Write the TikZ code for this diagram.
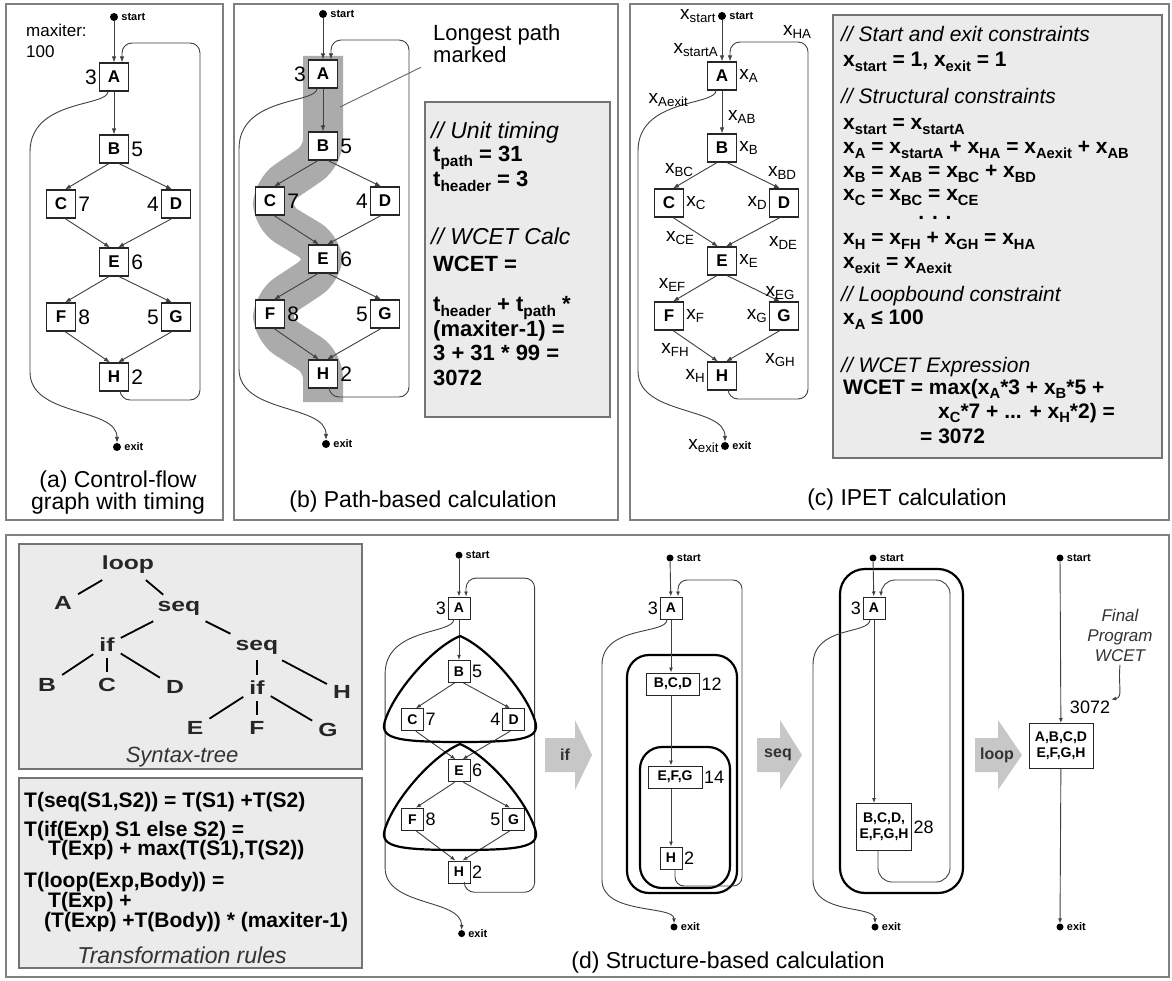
\documentclass[tikz,border=0pt]{standalone}
\usepackage{fontspec}
\setmainfont{Liberation Sans}
\usepackage{graphicx}
\usetikzlibrary{arrows.meta,positioning}
\newcommand\fs[2]{\fontsize{#1}{#2}\selectfont}
\newcommand\mysub[1]{\raisebox{-0.2em}{\scalebox{0.7}{#1}}}
\newcommand\wide[1]{\scalebox{1.3}[1]{#1}}
% generic control-flow graph, origin = centre of A
\newcommand\cfg[1]{%
\node[cdot] (#1s) at (0,-60) {};
\node[dlab, anchor=west] (#1sl) at ([xshift=2]#1s.east) {start};
\node[bx] (#1A) at (0,0) {A};
\node[bx] (#1B) at (0,72) {B};
\node[bx] (#1C) at (-53,127) {C};
\node[bx] (#1D) at (62,127) {D};
\node[bx] (#1E) at (0,185) {E};
\node[bx] (#1F) at (-53,240) {F};
\node[bx] (#1G) at (62,240) {G};
\node[bx] (#1H) at (0,300) {H};
\node[cdot] (#1x) at (3,370) {};
\node[dlab, anchor=west] (#1xl) at ([xshift=2]#1x.east) {exit};
\draw[arr] (#1s) -- (#1A);
\draw[arr] (#1A) -- (#1B);
\draw[arr] ([xshift=-5]#1B.south) -- ([xshift=4]#1C.north);
\draw[arr] ([xshift=5]#1B.south) -- ([xshift=-4]#1D.north);
\draw[arr] ([xshift=4]#1C.south) -- ([xshift=-4]#1E.north);
\draw[arr] ([xshift=-4]#1D.south) -- ([xshift=4]#1E.north);
\draw[arr] ([xshift=-5]#1E.south) -- ([xshift=4]#1F.north);
\draw[arr] ([xshift=5]#1E.south) -- ([xshift=-4]#1G.north);
\draw[arr] ([xshift=4]#1F.south) -- ([xshift=-4]#1H.north);
\draw[arr] ([xshift=-4]#1G.south) -- ([xshift=4]#1H.north);
\draw[arr, rounded corners=10] ([xshift=6]#1H.south) |- (86,323) -- (86,-34) -| ([xshift=8]#1A.north);
\draw[arr] ([xshift=-6]#1A.south) .. controls (-6,30) and (-84,22) .. (-84,75) -- (-84,295) .. controls (-84,340) and (3,330) .. (#1x);
}
\newcommand\cfgnums[1]{%
\node[nlab, anchor=east] (#1n3) at (#1A.west) {3};
\node[nlab, anchor=west] (#1n5) at (#1B.east) {5};
\node[nlab, anchor=west] (#1n7) at (#1C.east) {7};
\node[nlab, anchor=east] (#1n4) at (#1D.west) {4};
\node[nlab, anchor=west] (#1n6) at (#1E.east) {6};
\node[nlab, anchor=west] (#1n8) at (#1F.east) {8};
\node[nlab, anchor=east] (#1n5g) at (#1G.west) {5};
\node[nlab, anchor=west] (#1n2) at (#1H.east) {2};
}
\begin{document}
\begin{tikzpicture}[x=1pt,y=-1pt,
  panel/.style={draw=black!50, line width=1.6pt},
  gbox/.style={draw=black!55, fill=black!8, line width=1.3pt},
  bx/.style={draw=black!85, fill=white, line width=1.1pt, minimum width=29pt, minimum height=28pt, inner sep=0pt, font=\fs{17}{17}\bfseries},
  sbx/.style={draw=black!85, fill=white, line width=1pt, minimum width=22pt, minimum height=22pt, inner sep=2pt, font=\fs{14}{14}\bfseries, align=center},
  nlab/.style={font=\fs{21}{21}, inner sep=2pt},
  snlab/.style={font=\fs{18}{18}, inner sep=1.5pt},
  cdot/.style={circle, fill=black, minimum size=8pt, inner sep=0pt},
  dlab/.style={font=\fs{11}{11}\bfseries, inner sep=1pt},
  ln/.style={draw=black!75, line width=0.9pt},
  arr/.style={ln, -{Latex[length=6pt,width=4.5pt]}},
  sarr/.style={ln, -{Latex[length=5pt,width=4pt]}},
  captxt/.style={font=\fs{23}{23}, align=center, inner sep=0pt},
  cmt/.style={font=\fs{21}{21}\itshape, inner sep=0pt},
  btx/.style={font=\fs{21}{21}\bfseries, inner sep=0pt},
  bcmt/.style={font=\fs{23}{23}\itshape, inner sep=0pt},
  bbtx/.style={font=\fs{22}{22}\bfseries, inner sep=0pt},
  rtx/.style={font=\fs{21}{21}\bfseries, inner sep=0pt},
  xl/.style={font=\fs{19}{19}, inner sep=1pt},
  tl/.style={font=\fs{19}{19}\bfseries, text=black!85, inner sep=6pt},
  tree/.style={draw=black, line width=1.8pt},
  thk/.style={draw=black, line width=2.2pt},
  garr/.style={fill=black!22},
  alab/.style={font=\fs{16}{16}\bfseries, text=black!80, inner sep=0pt}]
\useasboundingbox (0,0) rectangle (1172,981);
\fill[white] (0,0) rectangle (1172,981);

% ---------------- panels
\draw[panel] (6,4) rectangle (223,520);
\draw[panel] (234,4) rectangle (618,520);
\draw[panel] (630,4) rectangle (1169,520);
\draw[panel] (6,535) rectangle (1169,977);

% ---------------- (a)
\node[font=\fs{17}{21}, align=left, anchor=north west, inner sep=0pt] (maxit) at (26,24) {maxiter:\\100};
\begin{scope}[shift={(114,77)}]
\cfg{a}
\cfgnums{a}
\end{scope}
\node[captxt] (capa) at (118,493) {(a) Control-flow\\[-1pt]graph with timing};

% ---------------- (b)
\draw[gbox] (425,102) rectangle (610,417);
\draw[black!33, line width=40pt, rounded corners=16] (323,56) -- (323,156) -- (273,190) -- (273,218) -- (323,248) -- (323,270) -- (273,303) -- (273,330) -- (323,362) -- (323,402);
\begin{scope}[shift={(323,74)}]
\cfg{b}
\cfgnums{b}
\end{scope}
\node[font=\fs{22}{22}, align=left, anchor=west, inner sep=0pt] (lpm) at (433,44) {Longest path\\marked};
\coordinate (bandpt) at (340,107);
\draw[black!60, line width=0.9pt] ([xshift=-12,yshift=-4]lpm.south west) -- (bandpt);
\node[bcmt, anchor=base west] (b1) at (431,139) {// Unit timing};
\node[bbtx, anchor=base west] (b2) at (433,162) {t\mysub{path} = 31};
\node[bbtx, anchor=base west] (b3) at (433,187) {t\mysub{header} = 3};
\node[bcmt, anchor=base west] (b4) at (431,245) {// WCET Calc};
\node[bbtx, anchor=base west] (b5) at (433,272) {WCET =};
\node[bbtx, anchor=base west] (b6) at (433,312) {t\mysub{header} + t\mysub{path} *};
\node[bbtx, anchor=base west] (b7) at (433,337) {(maxiter-1) =};
\node[bbtx, anchor=base west] (b8) at (433,360) {3 + 31 * 99 =};
\node[bbtx, anchor=base west] (b9) at (433,385) {3072};
\node[captxt] (capb) at (423,502) {(b) Path-based calculation};

% ---------------- (c)
\begin{scope}[shift={(722,76)}]
\cfg{c}
\node[xl, anchor=east] (cxs) at ([xshift=-1]cs.west) {x\mysub{start}};
\node[xl, anchor=east] (cxsA) at (-3,-26) {x\mysub{startA}};
\node[xl] (cxHA) at (75,-44) {x\mysub{HA}};
\node[xl, anchor=west] (cxA) at ([xshift=1]cA.east) {x\mysub{A}};
\node[xl, anchor=east] (cxAe) at (-33,24) {x\mysub{Aexit}};
\node[xl, anchor=west] (cxAB) at (5,41) {x\mysub{AB}};
\node[xl, anchor=west] (cxB) at ([xshift=1]cB.east) {x\mysub{B}};
\node[xl] (cxBC) at (-43,94) {x\mysub{BC}};
\node[xl] (cxBD) at (60,97) {x\mysub{BD}};
\node[xl, anchor=west] (cxC) at ([xshift=1]cC.east) {x\mysub{C}};
\node[xl, anchor=east] (cxD) at ([xshift=-1]cD.west) {x\mysub{D}};
\node[xl] (cxCE) at (-42,162) {x\mysub{CE}};
\node[xl] (cxDE) at (61,167) {x\mysub{DE}};
\node[xl, anchor=west] (cxE) at ([xshift=1]cE.east) {x\mysub{E}};
\node[xl] (cxEF) at (-50,209) {x\mysub{EF}};
\node[xl] (cxEG) at (58,217) {x\mysub{EG}};
\node[xl, anchor=west] (cxF) at ([xshift=1]cF.east) {x\mysub{F}};
\node[xl, anchor=east] (cxG) at ([xshift=-1]cG.west) {x\mysub{G}};
\node[xl] (cxFH) at (-47,274) {x\mysub{FH}};
\node[xl] (cxGH) at (58,284) {x\mysub{GH}};
\node[xl, anchor=east] (cxH) at ([xshift=-1]cH.west) {x\mysub{H}};
\node[xl, anchor=east] (cxx) at ([xshift=-1]cx.west) {x\mysub{exit}};
\end{scope}
\draw[gbox] (833,15) rectangle (1162,458);
\node[cmt, anchor=base west] (c1) at (841,42) {// Start and exit constraints};
\node[btx, anchor=base west] (c2) at (843,67) {x\mysub{start} = 1, x\mysub{exit} = 1};
\node[cmt, anchor=base west] (c3) at (841,104) {// Structural constraints};
\node[btx, anchor=base west] (c4) at (843,130) {x\mysub{start} = x\mysub{startA}};
\node[btx, anchor=base west] (c5) at (843,154) {x\mysub{A} = x\mysub{startA} + x\mysub{HA} = x\mysub{Aexit} + x\mysub{AB}};
\node[btx, anchor=base west] (c6) at (843,178) {x\mysub{B} = x\mysub{AB} = x\mysub{BC} + x\mysub{BD}};
\node[btx, anchor=base west] (c7) at (843,201) {x\mysub{C} = x\mysub{BC} = x\mysub{CE}};
\node[btx, anchor=base] (c8) at (935,220) {. . .};
\node[btx, anchor=base west] (c9) at (843,245) {x\mysub{H} = x\mysub{FH} + x\mysub{GH} = x\mysub{HA}};
\node[btx, anchor=base west] (c10) at (843,269) {x\mysub{exit} = x\mysub{Aexit}};
\node[cmt, anchor=base west] (c11) at (841,302) {// Loopbound constraint};
\node[btx, anchor=base west] (c12) at (843,325) {x\mysub{A} ≤ 100};
\node[cmt, anchor=base west] (c13) at (841,372) {// WCET Expression};
\node[btx, anchor=base west] (c14) at (843,394) {WCET = max(x\mysub{A}*3 + x\mysub{B}*5 +};
\node[btx, anchor=base west] (c15) at (938,418) {x\mysub{C}*7 + ... + x\mysub{H}*2) =};
\node[btx, anchor=base west] (c16) at (920,443) {= 3072};
\node[captxt] (capc) at (907,500) {(c) IPET calculation};

% ---------------- (d) left boxes
\draw[gbox] (19,544) rectangle (362,769);
\node[tl] (tloop) at (128,565) {\wide{loop}};
\node[tl] (tA) at (63,603) {\wide{A}};
\node[tl] (tseq1) at (179,608) {\wide{seq}};
\node[tl] (tif1) at (107,645) {\wide{if}};
\node[tl] (tseq2) at (257,647) {\wide{seq}};
\node[tl] (tB) at (47,685) {\wide{B}};
\node[tl] (tC) at (107,685) {\wide{C}};
\node[tl] (tD) at (175,687) {\wide{D}};
\node[tl] (tif2) at (257,688) {\wide{if}};
\node[tl] (tH) at (342,692) {\wide{H}};
\node[tl] (tE) at (195,728) {\wide{E}};
\node[tl] (tF) at (257,728) {\wide{F}};
\node[tl] (tG) at (328,730) {\wide{G}};
\draw[tree] (tloop) -- (tA);
\draw[tree] (tloop) -- (tseq1);
\draw[tree] (tseq1) -- (tif1);
\draw[tree] (tseq1) -- (tseq2);
\draw[tree] (tif1) -- (tB);
\draw[tree] (tif1) -- (tC);
\draw[tree] (tif1) -- (tD);
\draw[tree] (tseq2) -- (tif2);
\draw[tree] (tseq2) -- (tH);
\draw[tree] (tif2) -- (tE);
\draw[tree] (tif2) -- (tF);
\draw[tree] (tif2) -- (tG);
\node[font=\fs{22}{22}\itshape, text=black!80] (stree) at (182,757) {Syntax-tree};

\draw[gbox] (19,778) rectangle (362,968);
\node[rtx, anchor=base west] (r1) at (24,807) {T(seq(S1,S2)) = T(S1) +T(S2)};
\node[rtx, anchor=base west] (r2) at (24,836) {T(if(Exp) S1 else S2) =};
\node[rtx, anchor=base west] (r3) at (48,855) {T(Exp) + max(T(S1),T(S2))};
\node[rtx, anchor=base west] (r4) at (24,887) {T(loop(Exp,Body)) =};
\node[rtx, anchor=base west] (r5) at (48,907) {T(Exp) +};
\node[rtx, anchor=base west] (r6) at (44,927) {(T(Exp) +T(Body)) * (maxiter-1)};
\node[font=\fs{23}{23}\itshape, text=black!80] (trules) at (182,955) {Transformation rules};

% ---------------- (d) graph 1
\begin{scope}[shift={(459,608)}, scale=0.88,
  bx/.style={sbx}, nlab/.style={snlab}, cdot/.style={circle, fill=black, minimum size=7pt, inner sep=0pt},
  arr/.style={sarr}]
\cfg{d}
\cfgnums{d}
\end{scope}
\draw[thk] (460,636) .. controls (432,648) and (396,690) .. (386,718) .. controls (378,738) and (392,742) .. (460,742) .. controls (528,742) and (542,738) .. (534,718) .. controls (524,690) and (488,648) .. (460,636) -- cycle;
\draw[thk] (460,744) .. controls (432,756) and (396,798) .. (386,826) .. controls (378,846) and (392,850) .. (460,850) .. controls (528,850) and (542,846) .. (534,826) .. controls (524,798) and (488,756) .. (460,744) -- cycle;
\fill[garr] (545,738) -- (575,738) -- (575,720) -- (592,755) -- (575,790) -- (575,772) -- (545,772) -- cycle;
\node[alab] (lif) at (565,755) {if};

% ---------------- (d) graph 2
\node[cdot, minimum size=7pt] (g2s) at (670,558) {};
\node[dlab, anchor=west] (g2sl) at ([xshift=2]g2s.east) {start};
\node[sbx] (g2A) at (671,608) {A};
\node[snlab, anchor=east] (g2n3) at (g2A.west) {3};
\node[sbx, minimum width=53pt] (g2BCD) at (673,684) {B,C,D};
\node[snlab, anchor=west] (g2n12) at (g2BCD.east) {12};
\node[sbx, minimum width=54pt] (g2EFG) at (675,777) {E,F,G};
\node[snlab, anchor=west] (g2n14) at (g2EFG.east) {14};
\node[sbx] (g2H) at (671,858) {H};
\node[snlab, anchor=west] (g2n2) at (g2H.east) {2};
\node[cdot, minimum size=7pt] (g2x) at (674,927) {};
\node[dlab, anchor=west] (g2xl) at ([xshift=2]g2x.east) {exit};
\draw[thk, rounded corners=22] (627,655) rectangle (737,893);
\draw[thk, rounded corners=22] (640,747) rectangle (730,888);
\draw[sarr] (g2s) -- (g2A);
\draw[sarr] (g2A.south) -- (g2A.south |- g2BCD.north);
\draw[sarr] (g2A.south |- g2BCD.south) -- (g2A.south |- g2EFG.north);
\draw[sarr] (g2A.south |- g2EFG.south) -- (g2H.north);
\draw[sarr, rounded corners=9] ([xshift=4]g2H.south) |- (742,886) -- (742,580) -| ([xshift=7]g2A.north);
\draw[sarr] ([xshift=-4]g2A.south) .. controls (667,635) and (602,625) .. (602,665) -- (602,880) .. controls (602,915) and (674,905) .. (g2x);
\fill[garr] (757,738) -- (780,738) -- (780,720) -- (802,755) -- (780,790) -- (780,772) -- (757,772) -- cycle;
\node[alab] (lseq) at (778,755) {seq};

% ---------------- (d) graph 3
\node[cdot, minimum size=7pt] (g3s) at (873,558) {};
\node[dlab, anchor=west] (g3sl) at ([xshift=2]g3s.east) {start};
\node[sbx] (g3A) at (874,608) {A};
\node[snlab, anchor=east] (g3n3) at (g3A.west) {3};
\node[sbx, minimum width=55pt, minimum height=47pt, font=\fs{14}{16}\bfseries] (g3big) at (884,827) {B,C,D,\\E,F,G,H};
\node[snlab, anchor=west] (g3n28) at (g3big.east) {28};
\node[cdot, minimum size=7pt] (g3x) at (875,927) {};
\node[dlab, anchor=west] (g3xl) at ([xshift=2]g3x.east) {exit};
\draw[thk, rounded corners=25] (840,569) rectangle (963,893);
\draw[sarr] (g3s) -- (g3A);
\draw[sarr] (g3A.south) -- (g3A.south |- g3big.north);
\draw[sarr, rounded corners=14] ([xshift=-6]g3big.south) |- (950,882) -- (950,580) -| ([xshift=7]g3A.north);
\draw[sarr] ([xshift=-4]g3A.south) .. controls (870,635) and (813,625) .. (813,665) -- (813,880) .. controls (813,915) and (875,905) .. (g3x);
\fill[garr] (975,738) -- (998,738) -- (998,720) -- (1022,755) -- (998,790) -- (998,772) -- (975,772) -- cycle;
\node[alab] (lloop) at (997,755) {loop};

% ---------------- (d) graph 4
\node[cdot, minimum size=7pt] (g4s) at (1060,558) {};
\node[dlab, anchor=west] (g4sl) at ([xshift=2]g4s.east) {start};
\node[sbx, minimum width=64pt, minimum height=45pt, font=\fs{14}{16}\bfseries] (g4box) at (1061,746) {A,B,C,D\\E,F,G,H};
\node[cdot, minimum size=7pt] (g4x) at (1060,927) {};
\node[dlab, anchor=west] (g4xl) at ([xshift=2]g4x.east) {exit};
\draw[sarr] (g4s) -- (g4box);
\draw[sarr] (g4box) -- (g4x);
\node[font=\fs{18}{18}, inner sep=1pt] (n3072) at (1090,707) {3072};
\node[font=\fs{17}{20}\itshape, align=center, text=black!80] (fpw) at (1120,635) {Final\\Program\\WCET};
\draw[sarr] (fpw.south) .. controls +(-2,22) and +(12,-2) .. (n3072.north east);

\node[captxt] (capd) at (728,963) {(d) Structure-based calculation};
\end{tikzpicture}
\end{document}
